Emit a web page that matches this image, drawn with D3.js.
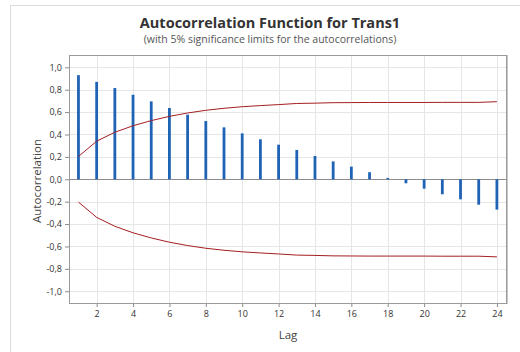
<!DOCTYPE html>
<html>
<head>
<meta charset="utf-8">
<script src="https://cdn.jsdelivr.net/npm/d3@7/dist/d3.min.js"></script>
<style>
  html, body { margin: 0; padding: 0; background: #fff; }
  svg { display: block; font-family: "Open Sans", "Noto Sans", sans-serif; }
</style>
</head>
<body>
<svg id="chart" width="520" height="352"></svg>
<script>
// lags 1..24
const lags = d3.range(1, 25);

// autocorrelation per lag
const acf = [0.93, 0.87, 0.815, 0.755, 0.696, 0.637, 0.577, 0.52, 0.464, 0.41, 0.357, 0.309,
             0.262, 0.208, 0.16, 0.113, 0.063, 0.012, -0.036, -0.084, -0.134, -0.179, -0.227, -0.271];

// 5% significance limit (symmetric, +/-)
const limit = [0.204, 0.34, 0.42, 0.478, 0.524, 0.562, 0.592, 0.616, 0.634, 0.648, 0.658, 0.667,
               0.677, 0.68, 0.684, 0.685, 0.686, 0.686, 0.686, 0.686, 0.687, 0.687, 0.687, 0.693];

const xTicks = [2, 4, 6, 8, 10, 12, 14, 16, 18, 20, 22, 24];
const yTicks = [1, 0.8, 0.6, 0.4, 0.2, 0, -0.2, -0.4, -0.6, -0.8, -1];

const svg = d3.select('#chart');

const plot = { left: 69, top: 55, right: 506, bottom: 303 };

// outer frame
svg.append('rect')
  .attr('x', 10.5).attr('y', 5.5)
  .attr('width', 530).attr('height', 360)
  .attr('fill', 'none')
  .attr('stroke', '#dcdcdc');

const x = d3.scaleLinear().domain([0.48, 24.5]).range([plot.left, plot.right]);
const y = d3.scaleLinear().domain([-1.105, 1.11]).range([plot.bottom, plot.top]);

const fmt = v => d3.format('.1f')(v).replace('.', ',').replace('−', '-');

// grid
const grid = svg.append('g').attr('stroke', '#e6e6e6').attr('stroke-width', 1);
grid.selectAll('line.v')
  .data(xTicks)
  .join('line')
  .attr('x1', d => Math.round(x(d)) + 0.5).attr('x2', d => Math.round(x(d)) + 0.5)
  .attr('y1', plot.top).attr('y2', plot.bottom);
grid.selectAll('line.h')
  .data(yTicks.filter(d => d !== 0))
  .join('line')
  .attr('class', 'h')
  .attr('x1', plot.left).attr('x2', plot.right)
  .attr('y1', d => Math.round(y(d)) + 0.5).attr('y2', d => Math.round(y(d)) + 0.5);

// zero reference line
svg.append('line')
  .attr('x1', plot.left).attr('x2', plot.right)
  .attr('y1', Math.round(y(0)) + 0.5).attr('y2', Math.round(y(0)) + 0.5)
  .attr('stroke', '#8c8c8c');

// acf bars
svg.append('g')
  .selectAll('line')
  .data(lags)
  .join('line')
  .attr('x1', d => x(d)).attr('x2', d => x(d))
  .attr('y1', y(0))
  .attr('y2', (d, i) => y(acf[i]))
  .attr('stroke', '#1f63b5')
  .attr('stroke-width', 2.8);

// significance limits
const line = d3.line().x((d, i) => x(lags[i]));
svg.append('path')
  .datum(limit)
  .attr('d', line.y(d => y(d)))
  .attr('fill', 'none').attr('stroke', '#a51e22').attr('stroke-width', 1);
svg.append('path')
  .datum(limit)
  .attr('d', line.y(d => y(-d)))
  .attr('fill', 'none').attr('stroke', '#a51e22').attr('stroke-width', 1);

// axes
const xAxis = d3.axisBottom(x).tickValues(xTicks).tickSize(4).tickPadding(4).tickSizeOuter(0);
const yAxis = d3.axisLeft(y).tickValues(yTicks).tickFormat(fmt).tickSize(4).tickPadding(3).tickSizeOuter(0);

const gx = svg.append('g').attr('transform', `translate(0,${plot.bottom})`).call(xAxis);
const gy = svg.append('g').attr('transform', `translate(${plot.left},0)`).call(yAxis);
[gx, gy].forEach(g => {
  g.select('.domain').remove();
  g.selectAll('line').attr('stroke', '#8c8c8c');
  g.selectAll('text').attr('fill', '#333').style('font-size', '9px').style('font-family', '"Open Sans", sans-serif');
});

// plot frame
svg.append('rect')
  .attr('x', plot.left + 0.5).attr('y', plot.top + 0.5)
  .attr('width', plot.right - plot.left).attr('height', plot.bottom - plot.top)
  .attr('fill', 'none').attr('stroke', '#9a9a9a');
svg.append('line')
  .attr('x1', plot.right + 1.5).attr('x2', plot.right + 1.5)
  .attr('y1', plot.top).attr('y2', plot.bottom + 1)
  .attr('stroke', '#c8c8c8');

// titles
svg.append('text')
  .attr('x', 270).attr('y', 28)
  .attr('text-anchor', 'middle')
  .attr('fill', '#333')
  .style('font-size', '14.5px').style('font-weight', 'bold')
  .text('Autocorrelation Function for Trans1');
svg.append('text')
  .attr('x', 270).attr('y', 43)
  .attr('text-anchor', 'middle')
  .attr('fill', '#555')
  .style('font-size', '10.5px')
  .text('(with 5% significance limits for the autocorrelations)');

svg.append('text')
  .attr('transform', `translate(41,${(plot.top + plot.bottom) / 2 + 2}) rotate(-90)`)
  .attr('text-anchor', 'middle')
  .attr('fill', '#444')
  .style('font-size', '11.5px')
  .text('Autocorrelation');
svg.append('text')
  .attr('x', 288).attr('y', 339)
  .attr('text-anchor', 'middle')
  .attr('fill', '#444')
  .style('font-size', '11.5px')
  .text('Lag');
</script>
</body>
</html>
